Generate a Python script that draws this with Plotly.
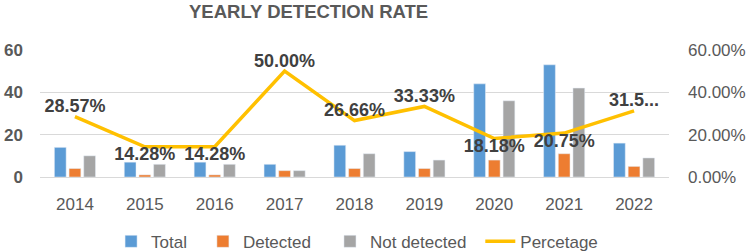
import plotly.graph_objects as go

years = ["2014", "2015", "2016", "2017", "2018", "2019", "2020", "2021", "2022"]
total = [14, 7, 7, 6, 15, 12, 44, 53, 16]
detected = [4, 1, 1, 3, 4, 4, 8, 11, 5]
not_detected = [10, 6, 6, 3, 11, 8, 36, 42, 9]
percentage = [0.2857, 0.1428, 0.1428, 0.50, 0.2666, 0.3333, 0.1818, 0.2075, 0.3125]
pct_labels = ["28.57%", "14.28%", "14.28%", "50.00%", "26.66%", "33.33%", "18.18%", "20.75%", "31.5..."]
label_pos = ["top center", "bottom center", "bottom center", "top center", "top center",
             "top center", "bottom center", "bottom center", "top center"]

FONT = "Liberation Sans, Arial, sans-serif"
GREY = "#595959"

fig = go.Figure()
fig.add_trace(go.Bar(x=years, y=total, name="Total", marker_color="#5B9BD5", legend="legend"))
fig.add_trace(go.Bar(x=years, y=detected, name="Detected", marker_color="#ED7D31", legend="legend2"))
fig.add_trace(go.Bar(x=years, y=not_detected, name="Not detected", marker_color="#A5A5A5", legend="legend3"))
fig.add_trace(go.Scatter(
    x=years, y=percentage, name="Percetage", yaxis="y2", legend="legend4",
    mode="lines+text", line=dict(color="#FFC000", width=3.5),
    text=pct_labels, textposition=label_pos,
    textfont=dict(family=FONT, size=18, color="#404040", weight="bold"),
    cliponaxis=False,
))

leg_common = dict(orientation="h", xanchor="left", y=-0.51, yanchor="middle",
                  font=dict(family=FONT, size=17, color=GREY), itemwidth=30,
                  bgcolor="rgba(0,0,0,0)")

fig.update_layout(
    width=749, height=252,
    margin=dict(l=40, r=80, t=50, b=75, autoexpand=False),
    paper_bgcolor="white", plot_bgcolor="white",
    font=dict(family=FONT, size=17, color=GREY),
    barmode="group", bargap=0.37, bargroupgap=0.2,
    title=dict(text="<b>YEARLY DETECTION RATE</b>", x=0.412, xanchor="center",
               y=0.955, yanchor="middle",
               font=dict(family=FONT, size=18.5, color=GREY)),
    xaxis=dict(showgrid=False, showline=True, linecolor="#D9D9D9", linewidth=1,
               ticks="", ticklabelstandoff=12, automargin=False,
               tickfont=dict(family=FONT, size=17, color=GREY)),
    yaxis=dict(range=[0, 60], dtick=20, showgrid=True, gridcolor="#D9D9D9",
               zeroline=False, ticks="", ticklabelstandoff=16, automargin=False,
               tickfont=dict(family=FONT, size=17, color=GREY, weight="bold")),
    yaxis2=dict(range=[0, 0.6], dtick=0.2, tickformat=".2%", overlaying="y",
                side="right", showgrid=False, zeroline=False, ticks="",
                ticklabelstandoff=18, automargin=False,
                tickfont=dict(family=FONT, size=17, color=GREY)),
    legend=dict(x=0.113, **leg_common),
    legend2=dict(x=0.259, **leg_common),
    legend3=dict(x=0.461, **leg_common),
    legend4=dict(x=0.700, **leg_common),
    showlegend=True,
)

fig.write_html("out.html", post_script="document.body.style.margin='0';",
               config={"displayModeBar": False})
